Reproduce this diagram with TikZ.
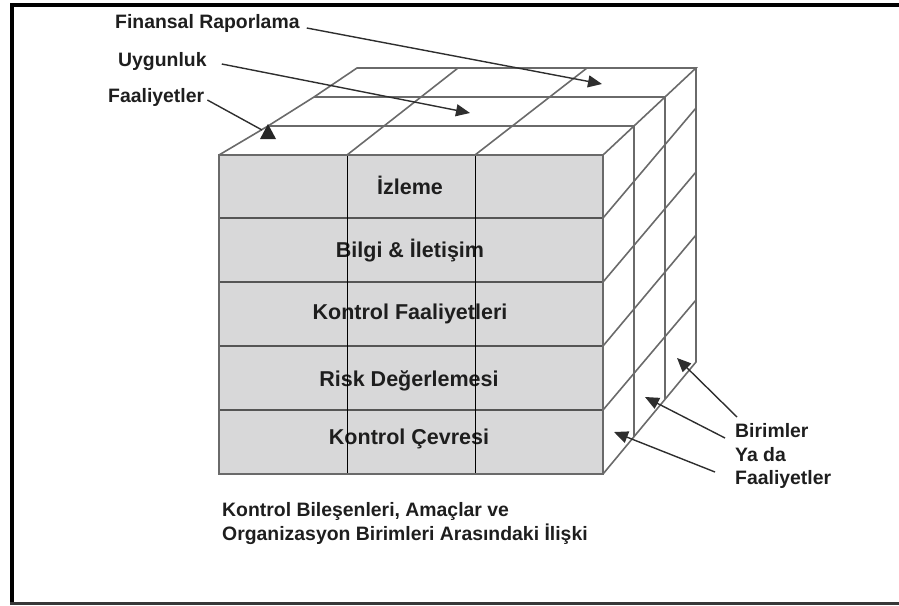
\documentclass[tikz,border=0pt]{standalone}
\usepackage{fontspec}
\setmainfont{Liberation Sans}
\usetikzlibrary{arrows.meta}

\definecolor{facegrey}{HTML}{D8D8D9}
\definecolor{edgegrey}{HTML}{6A6A6A}
\definecolor{rowgrey}{HTML}{555555}
\definecolor{inkdark}{HTML}{1E1E1E}

\tikzset{
  cubeedge/.style={draw=edgegrey, line width=1.6pt},
  rowline/.style={draw=rowgrey, line width=2pt},
  colline/.style={draw=black, line width=1pt},
  lbl/.style={font=\bfseries\fontsize{19.4}{22}\selectfont, text=inkdark, inner sep=0pt, anchor=base west},
  celltext/.style={font=\bfseries\fontsize{21.5}{24}\selectfont, text=inkdark, inner sep=0pt, anchor=base},
  pointer/.style={draw=black!82, line width=1.4pt, -{Triangle[length=14pt,width=12pt]}},
  plainline/.style={draw=black!82, line width=1.4pt}
}

\begin{document}
\begin{tikzpicture}[x=1pt,y=-1pt]
\useasboundingbox (0,0) rectangle (899,605);

% page frame (left, top, bottom)
\draw[line width=3.5pt, line cap=rect] (12,603) -- (12,5) -- (899,5);
\draw[line width=2.4pt, draw=black!78] (10,603.5) -- (899,603.5);

% ---- cube corners ----
\coordinate (FTL) at (219,155);
\coordinate (FTR) at (603,155);
\coordinate (FBR) at (603,474);
\coordinate (FBL) at (219,474);
\coordinate (BTL) at (357,68);
\coordinate (BTR) at (696,68);
\coordinate (BBR) at (696,362);
\coordinate (L1) at (268,126);
\coordinate (L2) at (314,97);
\coordinate (R1) at (634,126);
\coordinate (R2) at (665,97);

% front face
\fill[facegrey] (FTL) rectangle (FBR);

% row labels on the front face
\node[celltext] (r1) at (410,194) {İzleme};
\node[celltext] (r2) at (410,257) {Bilgi \& İletişim};
\node[celltext] (r3) at (410,319) {Kontrol Faaliyetleri};
\node[celltext] (r4) at (409,386) {Risk Değerlemesi};
\node[celltext] (r5) at (409,444) {Kontrol Çevresi};

% front face rows and columns
\foreach \y in {218,282,346,410}
  \draw[rowline] (219,\y) -- (603,\y);
\foreach \x in {347,475}
  \draw[colline] (\x,155) -- (\x,474);
\draw[cubeedge, line width=2pt] (FTL) rectangle (FBR);

% top face
\draw[cubeedge] (FTL) -- (L1) -- (L2) -- (BTL) -- (BTR) -- (R2) -- (R1) -- (FTR);
\draw[cubeedge] (L1) -- (R1);
\draw[cubeedge] (L2) -- (R2);
\draw[cubeedge] (347,155) -- (458,68);
\draw[cubeedge] (475,155) -- (587,68);

% right face
\draw[cubeedge] (FBR) -- (BBR) -- (BTR);
\draw[cubeedge] (R1) -- (634,437);
\draw[cubeedge] (R2) -- (665,399);
\draw[cubeedge] (603,218) -- (696,108);
\draw[cubeedge] (603,282) -- (696,172);
\draw[cubeedge] (603,346) -- (696,235);
\draw[cubeedge] (603,410) -- (696,300);

% labels for the objectives
\node[lbl] (fin) at (115,28) {Finansal Raporlama};
\node[lbl] (uyg) at (118,66) {Uygunluk};
\node[lbl] (faa) at (108,102) {Faaliyetler};

\coordinate (finTip) at (602,84);
\coordinate (uygTip) at (470,113);
\coordinate (faaEnd) at (262,130);
\coordinate (faaTip) at (268,124);

\draw[pointer] ([shift={(7,0)}]fin.base east) -- (finTip);
\draw[pointer] ([shift={(15,-2)}]uyg.base east) -- (uygTip);
\draw[plainline] ([shift={(3,-2)}]faa.base east) -- (faaEnd);
\fill[black!85] (faaTip) -- ++(8,15) -- ++(-16,0) -- cycle;

% labels for the units
\node[lbl] (bir1) at (735,437) {Birimler};
\node[lbl] (bir2) at (735,461) {Ya da};
\node[lbl] (bir3) at (735,484) {Faaliyetler};

\coordinate (uTipA) at (677,358);
\coordinate (uTipB) at (645,397);
\coordinate (uTipC) at (614,432);

\draw[pointer] ([shift={(2,-20)}]bir1.base west) -- (uTipA);
\draw[pointer] ([shift={(-10,1)}]bir1.base west) -- (uTipB);
\draw[pointer] ([shift={(-20,-12)}]bir3.base west) -- (uTipC);

% caption
\node[lbl] (cap1) at (222,516) {Kontrol Bileşenleri, Amaçlar ve};
\node[lbl] (cap2) at (222,540) {Organizasyon Birimleri Arasındaki İlişki};
\end{tikzpicture}
\end{document}
